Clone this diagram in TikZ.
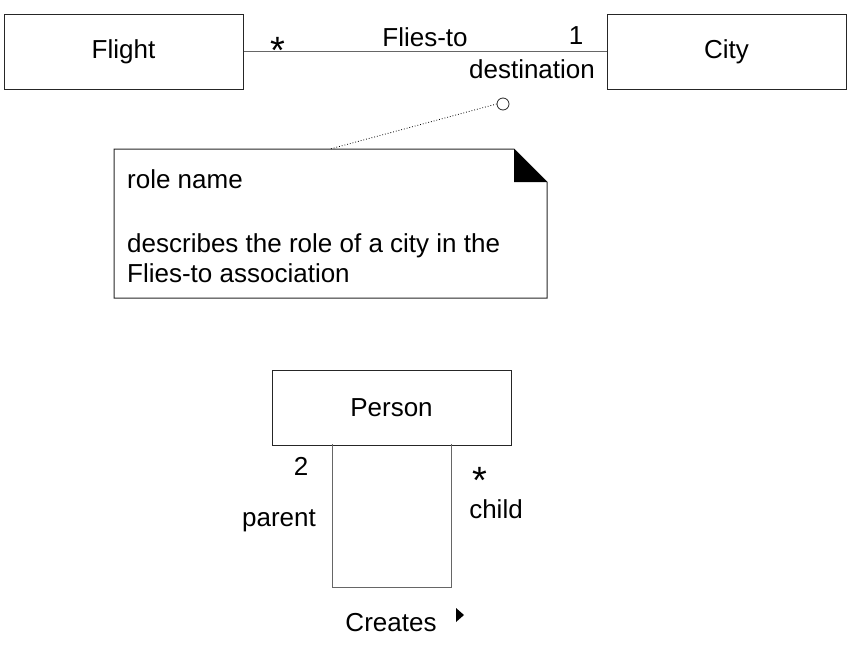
\documentclass[tikz,border=0pt]{standalone}
\usepackage{fontspec}
\setmainfont{Liberation Sans}
\begin{document}
\begin{tikzpicture}[x=1pt,y=-1pt,
  cls/.style={draw=black!85,line width=1pt,minimum width=239pt,minimum height=75pt,inner sep=0pt,font=\fontsize{26}{30}\selectfont},
  lbl/.style={anchor=base,inner sep=0pt,font=\fontsize{26}{30}\selectfont},
  starlbl/.style={anchor=base,inner sep=0pt,font=\fontsize{38}{40}\selectfont},
  assoc/.style={draw=black!60,line width=1pt},
]
\useasboundingbox (0,0) rectangle (850,666);
% classes
\node[cls] (flight) at (123.5,52) {Flight};
\node[cls] (city) at (726.5,52) {City};
\node[cls] (person) at (391.5,407.5) {Person};
% association Flies-to
\draw[assoc] (flight.east) -- (city.west);
\node[starlbl] (star1) at (278,64) {*};
\node[lbl] (fliesto) at (425,47) {Flies-to};
\node[lbl] (one) at (576,45) {1};
\node[lbl] (dest) at (532,79) {destination};
% note
\draw[black!85,line width=1pt] (114,149) -- (514,149) -- (547,182) -- (547,298) -- (114,298) -- cycle;
\fill[black] (514,149) -- (547,182) -- (514,182) -- cycle;
\node[lbl,anchor=base west] (nt1) at (127,188) {role name};
\node[lbl,anchor=base west] (nt2) at (127,252) {describes the role of a city in the};
\node[lbl,anchor=base west] (nt3) at (127,282) {Flies-to association};
\node[draw=black!85,line width=0.8pt,circle,minimum size=12pt,inner sep=0pt,fill=white] (pin) at (503,104) {};
\coordinate (nattach) at (330,149);
\draw[dotted,line width=0.8pt] (pin.west) -- (nattach);
% self association
\coordinate (la) at (332,444);
\coordinate (lb) at (332,587);
\coordinate (lc) at (451,587);
\coordinate (ld) at (451,444);
\draw[assoc] (la) -- (lb) -- (lc) -- (ld);
\node[lbl] (two) at (301,475) {2};
\node[lbl] (parent) at (279,526) {parent};
\node[starlbl] (star2) at (480,493) {*};
\node[lbl] (child) at (496,518) {child};
\node[lbl] (creates) at (391,631) {Creates};
\fill[black] (456,608) -- (464,615) -- (456,622) -- cycle;
\end{tikzpicture}
\end{document}
